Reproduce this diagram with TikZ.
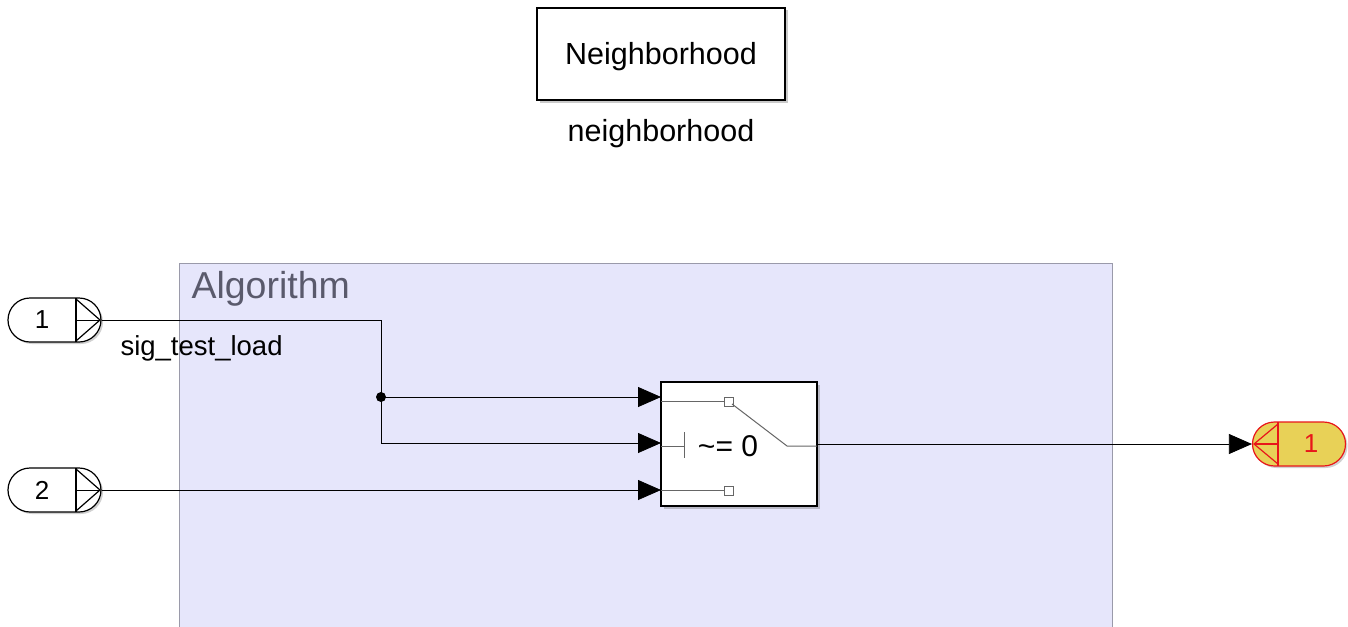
\documentclass[tikz,border=0pt]{standalone}
\usepackage{fontspec}
\setmainfont{Liberation Sans}
\usetikzlibrary{arrows.meta,shadows}
\definecolor{areafill}{HTML}{E6E6FB}
\definecolor{areadraw}{HTML}{9A9AAA}
\definecolor{areatext}{HTML}{5A5A6C}
\definecolor{outfill}{HTML}{E8D157}
\definecolor{outred}{HTML}{E8161A}
\tikzset{
  blk/.style={draw=black, line width=1.4pt, fill=white, inner sep=0pt,
    drop shadow={shadow xshift=2.5pt, shadow yshift=-2.5pt, opacity=0.35, fill=black!60}},
  port/.style={draw=black, line width=1.2pt, fill=white, rounded corners=22pt,
    minimum width=93pt, minimum height=44pt, inner sep=0pt,
    drop shadow={shadow xshift=2pt, shadow yshift=-2pt, opacity=0.3, fill=black!60}},
  outport/.style={port, draw=outred, fill=outfill},
  sig/.style={line width=0.8pt, draw=black},
  sigarr/.style={sig, -{Triangle[length=23pt,width=20pt]}},
  thin/.style={line width=1pt, draw=black!60},
}
\begin{document}
\begin{tikzpicture}[x=1pt,y=-1pt]
\useasboundingbox (0,0) rectangle (1348,626);
% Algorithm area
\fill[areafill] (179,263) rectangle (1112,640);
\draw[areadraw, line width=1pt] (179,640) -- (179,263) -- (1112,263) -- (1112,640);
\node[anchor=west, text=areatext, font=\fontsize{37.5}{44}\selectfont] (alg) at (188,289) {Algorithm};
% Neighborhood
\node[blk, minimum width=248pt, minimum height=92pt] (nb) at (661,54) {};
\node[font=\fontsize{30.5}{36}\selectfont] (nbt) at (661,57) {Neighborhood};
\node[font=\fontsize{30.5}{36}\selectfont] (nbl) at (661,134) {neighborhood};
% Inports
\node[port] (in1) at (54.5,320) {};
\node[font=\fontsize{26}{30}\selectfont] (in1t) at (42,320) {1};
\draw[line width=1.2pt] (76,298) -- (76,342);
\draw[line width=1.2pt] (76,299) -- (100,320) -- (76,341);
\draw[line width=0.8pt] (76,320) -- (100,320);
\node[port] (in2) at (54.5,490) {};
\node[font=\fontsize{26}{30}\selectfont] (in2t) at (42,490) {2};
\draw[line width=1.2pt] (76,468) -- (76,512);
\draw[line width=1.2pt] (76,469) -- (100,490) -- (76,511);
\draw[line width=0.8pt] (76,490) -- (100,490);
% Outport
\node[outport] (out1) at (1299,444) {};
\node[font=\fontsize{26}{30}\selectfont, text=outred] (out1t) at (1311,444) {1};
\draw[outred, line width=1.2pt] (1278,422) -- (1278,466);
\draw[outred, line width=1.2pt] (1278,424) -- (1254,444) -- (1278,464);
\draw[outred, line width=1.2pt] (1254,444) -- (1278,444);
% Switch
\node[blk, minimum width=156pt, minimum height=124pt] (sw) at (739,444) {};
\coordinate (p1) at (661,397);
\coordinate (p2) at (661,443);
\coordinate (p3) at (661,490);
\coordinate (po) at (817,444);
\draw[thin] (661,401) -- (724.5,401);
\draw[thin, fill=white] (724.5,397) rectangle (733.5,406);
\draw[thin] (732,404) -- (787,446) -- (817,446);
\draw[thin] (661,446) -- (684,446);
\draw[thin] (684,432) -- (684,458);
\node[font=\fontsize{30}{36}\selectfont] (swt) at (728,446) {\textasciitilde= 0};
\draw[thin] (661,490) -- (724.5,490);
\draw[thin, fill=white] (724.5,486) rectangle (733.5,495);
% Signals
\coordinate (br) at (381,397);
\draw[sig] (in1.east) -- (381,320) -- (br);
\draw[sigarr] (br) -- (381,443) -- (p2);
\draw[sigarr] (br) -- (p1);
\fill (br) circle (5pt);
\draw[sigarr] (in2.east) -- (p3);
\draw[sigarr] (po) -- (out1.west);
\node[anchor=west, font=\fontsize{27.5}{33}\selectfont] (lbl) at (117,348) {sig\_test\_load};
\end{tikzpicture}
\end{document}
